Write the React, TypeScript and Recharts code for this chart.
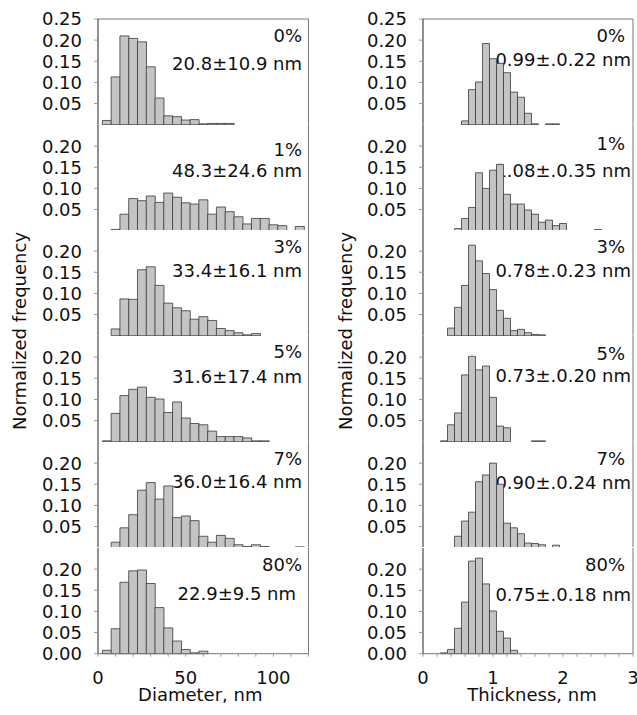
import React from 'react';
import { BarChart, Bar, XAxis, YAxis, ReferenceLine } from 'recharts';

const FONT = '"DejaVu Sans", sans-serif';

// bin centres
const DIAMETER_BINS = [5, 10, 15, 20, 25, 30, 35, 40, 45, 50, 55, 60, 65, 70, 75, 80, 85, 90, 95, 100, 105, 110, 115];
const THICKNESS_BINS = [0.3, 0.4, 0.5, 0.6, 0.7, 0.8, 0.9, 1.0, 1.1, 1.2, 1.3, 1.4, 1.5, 1.6, 1.7, 1.8, 1.9, 2.0, 2.1, 2.2, 2.3, 2.4, 2.5, 2.6];

const LOADINGS = ['0%', '1%', '3%', '5%', '7%', '80%'];
const DIAMETER_STATS = ['20.8±10.9 nm', '48.3±24.6 nm', '33.4±16.1 nm', '31.6±17.4 nm', '36.0±16.4 nm', '22.9±9.5 nm'];
const THICKNESS_STATS = ['0.99±.0.22 nm', '1.08±.0.35 nm', '0.78±.0.23 nm', '0.73±.0.20 nm', '0.90±.0.24 nm', '0.75±.0.18 nm'];

// normalized frequency per diameter bin
const diameter0 = [0.010, 0.113, 0.210, 0.204, 0.196, 0.137, 0.063, 0.021, 0.019, 0.011, 0.012, 0.002, 0.003, 0.003, 0.003, 0, 0, 0, 0, 0, 0, 0, 0];
const diameter1 = [0, 0.003, 0.039, 0.076, 0.071, 0.082, 0.067, 0.089, 0.079, 0.066, 0.063, 0.073, 0.039, 0.056, 0.045, 0.033, 0.016, 0.029, 0.029, 0.014, 0.012, 0, 0.010];
const diameter3 = [0, 0.016, 0.087, 0.086, 0.156, 0.163, 0.119, 0.077, 0.066, 0.059, 0.039, 0.045, 0.036, 0.017, 0.012, 0.007, 0.002, 0.005, 0, 0, 0, 0, 0];
const diameter5 = [0.002, 0.067, 0.109, 0.124, 0.129, 0.105, 0.101, 0.069, 0.094, 0.056, 0.043, 0.040, 0.025, 0.012, 0.012, 0.012, 0.009, 0.002, 0.002, 0, 0, 0, 0];
const diameter7 = [0, 0.013, 0.047, 0.078, 0.136, 0.154, 0.115, 0.146, 0.071, 0.075, 0.064, 0.027, 0.013, 0.029, 0.022, 0.007, 0.003, 0.007, 0.003, 0, 0, 0, 0.002];
const diameter80 = [0.008, 0.059, 0.169, 0.196, 0.198, 0.166, 0.109, 0.061, 0.030, 0.010, 0.002, 0.006, 0, 0, 0, 0, 0, 0, 0, 0, 0, 0, 0];

// normalized frequency per thickness bin
const thickness0 = [0, 0, 0, 0.009, 0.083, 0.101, 0.192, 0.156, 0.145, 0.123, 0.077, 0.065, 0.027, 0.002, 0, 0.002, 0.002, 0, 0, 0, 0, 0, 0, 0];
const thickness1 = [0, 0, 0.005, 0.029, 0.055, 0.137, 0.100, 0.143, 0.157, 0.086, 0.063, 0.063, 0.049, 0.039, 0.020, 0.025, 0.012, 0.017, 0, 0, 0, 0, 0.003, 0];
const thickness3 = [0, 0.018, 0.067, 0.119, 0.214, 0.177, 0.147, 0.109, 0.060, 0.041, 0.012, 0.015, 0.007, 0.003, 0.002, 0, 0, 0, 0, 0, 0, 0, 0, 0];
const thickness5 = [0.002, 0.040, 0.068, 0.158, 0.202, 0.170, 0.179, 0.105, 0.037, 0.033, 0, 0, 0, 0.002, 0.002, 0, 0, 0, 0, 0, 0, 0, 0, 0];
const thickness7 = [0, 0, 0.027, 0.063, 0.084, 0.156, 0.172, 0.200, 0.150, 0.058, 0.047, 0.033, 0.011, 0.010, 0.007, 0, 0.006, 0, 0, 0, 0, 0, 0, 0];
const thickness80 = [0.002, 0.010, 0.060, 0.122, 0.219, 0.226, 0.165, 0.101, 0.053, 0.037, 0.008, 0, 0, 0, 0, 0, 0, 0, 0, 0, 0, 0, 0, 0];

const DIAMETER_FREQ = [diameter0, diameter1, diameter3, diameter5, diameter7, diameter80];
const THICKNESS_FREQ = [thickness0, thickness1, thickness3, thickness5, thickness7, thickness80];

const Y_TICKS_TOP = [0.05, 0.1, 0.15, 0.2, 0.25];
const Y_TICKS_MID = [0.05, 0.1, 0.15, 0.2];
const Y_TICKS_BOTTOM = [0, 0.05, 0.1, 0.15, 0.2];

const DIAMETER_TICKS = [0, 10, 20, 30, 40, 50, 60, 70, 80, 90, 100, 110, 120];
const DIAMETER_LABELS = [0, 50, 100];
const THICKNESS_TICKS = [0, 0.2, 0.4, 0.6, 0.8, 1, 1.2, 1.4, 1.6, 1.8, 2, 2.2, 2.4, 2.6, 2.8, 3];
const THICKNESS_LABELS = [0, 1, 2, 3];

// layout
const PANEL_TOP = 19;
const PANEL_H = 105.7;
const PAD_TOP = 12;
const AXIS_H = 40;
const Y_AXIS_W = 60;

const LEFT_COL = {
  left: 0, width: 320, plotLeft: 98, plotRight: 308.5,
  pctX: 302, statX: 302,
  textY: [[23, 51], [31, 52], [23, 47], [22, 47], [23, 46], [23, 52]],
};
const RIGHT_COL = {
  left: 320, width: 317, plotLeft: 423, plotRight: 633,
  pctX: 625, statX: 631,
  textY: [[23, 47], [25, 52], [23, 47], [24, 46], [23, 47], [23, 53]],
};

type Col = typeof LEFT_COL;

interface PanelProps {
  col: Col;
  index: number;
  bins: number[];
  freq: number[];
  domain: [number, number];
  ticks: number[];
  labels: number[];
}

function Panel({ col, index, bins, freq, domain, ticks, labels }: PanelProps) {
  const top = PANEL_TOP + index * PANEL_H;
  const isFirst = index === 0;
  const isLast = index === 5;
  const data = bins.map((x, i) => ({ x, f: freq[i] }));
  const yTicks = isFirst ? Y_TICKS_TOP : isLast ? Y_TICKS_BOTTOM : Y_TICKS_MID;

  return (
    <div style={{ position: 'absolute', left: col.left, top: top - PAD_TOP }}>
      <BarChart
        width={col.width}
        height={PAD_TOP + PANEL_H + (isLast ? AXIS_H : 0)}
        data={data}
        barCategoryGap={0}
        barGap={0}
        margin={{
          top: PAD_TOP,
          right: col.left + col.width - col.plotRight,
          bottom: 0,
          left: col.plotLeft - col.left - Y_AXIS_W,
        }}
      >
        <XAxis
          type="number"
          dataKey="x"
          domain={domain}
          ticks={ticks}
          interval={0}
          height={isLast ? AXIS_H : 0}
          axisLine={{ stroke: '#777' }}
          tick={isLast ? { fill: '#111', fontSize: 18, fontFamily: FONT } : false}
          tickLine={isLast ? { stroke: '#999' } : false}
          tickSize={3}
          tickMargin={15}
          tickFormatter={(v: number) => (labels.includes(v) ? String(v) : '')}
        />
        <YAxis
          type="number"
          domain={[0, 0.25]}
          ticks={yTicks}
          interval={0}
          width={Y_AXIS_W}
          axisLine={{ stroke: '#222' }}
          tickLine={{ stroke: '#999' }}
          tickSize={4}
          tickMargin={12}
          tick={{ fill: '#111', fontSize: 18, fontFamily: FONT }}
          tickFormatter={(v: number) => v.toFixed(2)}
        />
        {isFirst && <ReferenceLine y={0.25} stroke="#777" />}
        <ReferenceLine x={domain[1]} stroke="#777" />
        <Bar dataKey="f" fill="#c4c4c4" stroke="#3a3a3a" strokeWidth={0.8} isAnimationActive={false} />
      </BarChart>
    </div>
  );
}

// sample labels sit underneath the bars
function Annotations({ col, stats }: { col: Col; stats: string[] }) {
  return (
    <>
      {LOADINGS.map((pct, i) => {
        const top = PANEL_TOP + i * PANEL_H;
        const [pctY, statY] = col.textY[i];
        return (
          <g key={pct} fill="#111" fontSize={18} fontFamily={FONT} textAnchor="end">
            <text x={col.pctX} y={top + pctY}>{pct}</text>
            <text x={i === 5 && col === LEFT_COL ? col.statX - 6 : col.statX} y={top + statY}>{stats[i]}</text>
          </g>
        );
      })}
    </>
  );
}

const titleStyle = { fill: '#111', fontSize: 18, fontFamily: FONT };

export default function App() {
  const axisY = PANEL_TOP + 6 * PANEL_H;
  return (
    <div style={{ position: 'absolute', left: 0, top: 0, width: 637, height: 715, background: '#fff', overflow: 'hidden' }}>
      <svg width={637} height={715} style={{ position: 'absolute', left: 0, top: 0 }}>
        <Annotations col={LEFT_COL} stats={DIAMETER_STATS} />
        <Annotations col={RIGHT_COL} stats={THICKNESS_STATS} />
        <text transform="translate(19,331) rotate(-90)" textAnchor="middle" dominantBaseline="central" style={titleStyle}>
          Normalized frequency
        </text>
        <text transform="translate(345,331) rotate(-90)" textAnchor="middle" dominantBaseline="central" style={titleStyle}>
          Normalized frequency
        </text>
        <text x={(LEFT_COL.plotLeft + LEFT_COL.plotRight) / 2 - 3} y={axisY + 48} textAnchor="middle" style={titleStyle}>
          Diameter, nm
        </text>
        <text x={(RIGHT_COL.plotLeft + RIGHT_COL.plotRight) / 2 + 4} y={axisY + 48} textAnchor="middle" style={titleStyle}>
          Thickness, nm
        </text>
      </svg>
      {LOADINGS.map((pct, i) => (
        <Panel
          key={`d-${pct}`}
          col={LEFT_COL}
          index={i}
          bins={DIAMETER_BINS}
          freq={DIAMETER_FREQ[i]}
          domain={[0, 120]}
          ticks={DIAMETER_TICKS}
          labels={DIAMETER_LABELS}
        />
      ))}
      {LOADINGS.map((pct, i) => (
        <Panel
          key={`t-${pct}`}
          col={RIGHT_COL}
          index={i}
          bins={THICKNESS_BINS}
          freq={THICKNESS_FREQ[i]}
          domain={[0, 3]}
          ticks={THICKNESS_TICKS}
          labels={THICKNESS_LABELS}
        />
      ))}
    </div>
  );
}
